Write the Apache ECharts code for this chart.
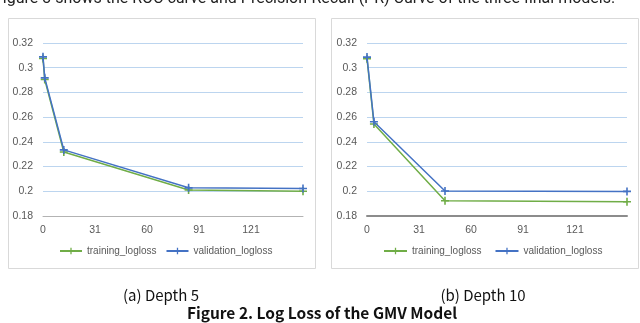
<!DOCTYPE html>
<html>
<head>
<meta charset="utf-8">
<script src="https://cdn.jsdelivr.net/npm/echarts@6/dist/echarts.min.js"></script>
<style>
html,body{margin:0;padding:0;background:#fff;}
#c{width:640px;height:323px;}
</style>
</head>
<body>
<div id="c"></div>
<script>
// ---- data ----
var epochs5 = [0, 1, 12, 84, 150];
var train5 = [0.3075, 0.2905, 0.2318, 0.2010, 0.2000];
var valid5 = [0.3088, 0.2918, 0.2335, 0.2028, 0.2022];
var epochs10 = [0, 4, 45, 150];
var train10 = [0.3073, 0.2545, 0.1924, 0.1915];
var valid10 = [0.3086, 0.2563, 0.2002, 0.1999];
var xTickLabels = ['0', '31', '60', '91', '121'];
var seriesNames = ['training_logloss', 'validation_logloss'];
var captions = ['(a) Depth 5', '(b) Depth 10'];
var figureTitle = 'Figure 2. Log Loss of the GMV Model';
var topSentence = 'Figure 3 shows the ROC curve and Precision-Recall (PR) Curve of the three final models.';

function pairs(xs, ys) { return xs.map(function (x, i) { return [x, ys[i]]; }); }

var GREEN = '#70ad47', BLUE = '#4472c4';
var plus = 'path://M4,0h2v4h4v2h-4v4h-2v-4h-4v-2h4z';
var labFont = {color: '#595959', fontSize: 10.5, fontFamily: 'Liberation Sans, Arial, sans-serif'};

function xAxis(idx, lineColor, lineW) {
  return {
    type: 'value', gridIndex: idx, min: 0, max: 150, interval: 30,
    axisLine: {show: true, lineStyle: {color: lineColor, width: lineW}},
    axisTick: {show: false}, splitLine: {show: false},
    axisLabel: Object.assign({margin: 9, formatter: function (v) {
      var i = Math.round(v / 30); return i < xTickLabels.length ? xTickLabels[i] : '';
    }}, labFont)
  };
}
function yAxis(idx) {
  return {
    type: 'value', gridIndex: idx, min: 0.18, max: 0.32, interval: 0.02,
    axisLine: {show: false}, axisTick: {show: false},
    splitLine: {show: true, lineStyle: {color: '#bcd5ef', width: 1}},
    axisLabel: Object.assign({margin: 10, formatter: function (v) {
      return String(parseFloat(v.toFixed(2)));
    }}, labFont)
  };
}
function ser(name, idx, xs, ys, color, z) {
  return {
    name: name, type: 'line', xAxisIndex: idx, yAxisIndex: idx,
    data: pairs(xs, ys), symbol: plus, symbolSize: 8, showSymbol: true,
    lineStyle: {color: color, width: 1.5}, itemStyle: {color: color},
    animation: false, z: z
  };
}
var legendText = Object.assign({}, labFont, {fontSize: 10});

var chart = echarts.init(document.getElementById('c'), null, {renderer: 'canvas'});
chart.setOption({
  animation: false,
  backgroundColor: '#fff',
  grid: [
    {left: 43, top: 43, width: 260, height: 173},
    {left: 367, top: 43, width: 260, height: 173}
  ],
  xAxis: [xAxis(0, '#b3b3b3', 1), xAxis(1, '#8c8c8c', 2)],
  yAxis: [yAxis(0), yAxis(1)],
  legend: [
    {left: 59, top: 246, itemWidth: 22, itemHeight: 8, itemGap: 9,
     data: seriesNames, textStyle: legendText, padding: 0},
    {left: 383, top: 246, itemWidth: 23, itemHeight: 8, itemGap: 13,
     data: seriesNames, textStyle: legendText, padding: 0}
  ],
  series: [
    ser(seriesNames[0], 0, epochs5, train5, GREEN, 2),
    ser(seriesNames[1], 0, epochs5, valid5, BLUE, 3),
    ser(seriesNames[0], 1, epochs10, train10, GREEN, 2),
    ser(seriesNames[1], 1, epochs10, valid10, BLUE, 3)
  ],
  graphic: [
    {type: 'rect', shape: {x: 8.5, y: 18.5, width: 307, height: 250}, z: -10,
     style: {fill: '#fff', stroke: '#d9d9d9', lineWidth: 1}},
    {type: 'rect', shape: {x: 331.5, y: 18.5, width: 307, height: 250}, z: -10,
     style: {fill: '#fff', stroke: '#d9d9d9', lineWidth: 1}},
    {type: 'text', left: -6, top: -9, z: 10,
     style: {text: topSentence, fill: '#222', font: '16px Roboto, sans-serif'}},
    {type: 'text', x: 161, y: 295, z: 10,
     style: {text: captions[0], fill: '#111', font: '15px "Noto Sans CJK SC", sans-serif', align: 'center', verticalAlign: 'middle'}},
    {type: 'text', x: 483, y: 295, z: 10,
     style: {text: captions[1], fill: '#111', font: '15px "Noto Sans CJK SC", sans-serif', align: 'center', verticalAlign: 'middle'}},
    {type: 'text', x: 322, y: 313, z: 10,
     style: {text: figureTitle, fill: '#111', font: 'bold 15.5px "Noto Sans CJK SC", sans-serif', align: 'center', verticalAlign: 'middle'}}
  ]
});
</script>
</body>
</html>
